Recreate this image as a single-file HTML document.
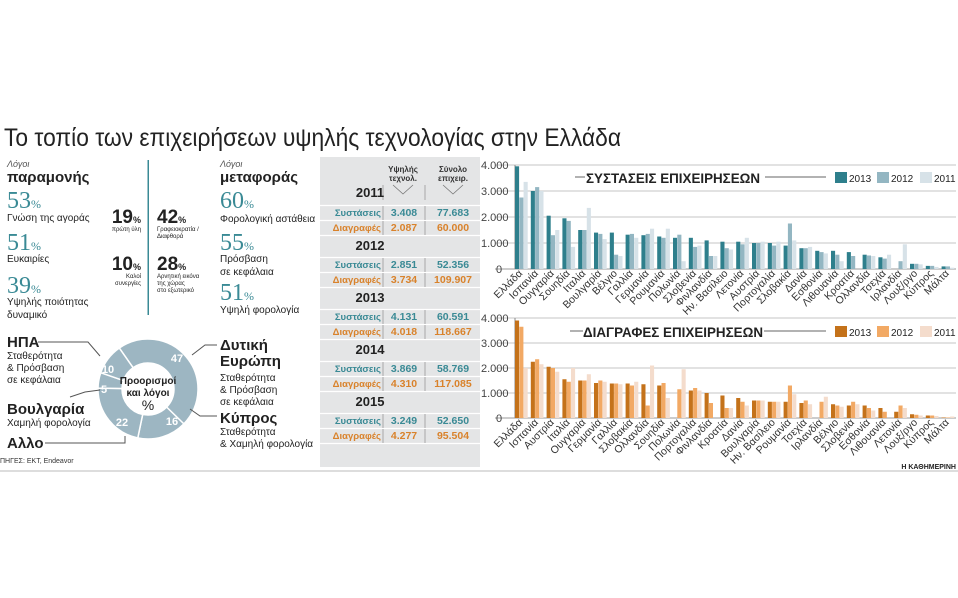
<!DOCTYPE html>
<html><head><meta charset="utf-8"><style>
html,body{margin:0;padding:0;background:#fff;}
svg{display:block;font-family:"Liberation Sans","DejaVu Sans",sans-serif;}
.tl{font-size:10.5px;fill:#333;}
.yt{font-size:11px;fill:#444;}
</style></head><body>
<svg id="s" width="958" height="598" viewBox="0 0 958 598" xmlns="http://www.w3.org/2000/svg">
<rect width="958" height="598" fill="#fff"/>
<text x="4" y="146" font-size="25" fill="#222" textLength="617" lengthAdjust="spacingAndGlyphs">Το τοπίο των επιχειρήσεων υψηλής τεχνολογίας στην Ελλάδα</text>

<g fill="#222">
<text x="7" y="167" font-size="9" font-style="italic" fill="#555">Λόγοι</text>
<text x="7" y="182" font-size="15" font-weight="bold">παραμονής</text>
<text x="7" y="208" font-size="24" fill="#3a8a95" font-family="Liberation Serif,serif">53<tspan font-size="12">%</tspan></text>
<text x="7" y="221" font-size="10">Γνώση της αγοράς</text>
<text x="7" y="250" font-size="24" fill="#3a8a95" font-family="Liberation Serif,serif">51<tspan font-size="12">%</tspan></text>
<text x="7" y="262" font-size="10">Ευκαιρίες</text>
<text x="7" y="293" font-size="24" fill="#3a8a95" font-family="Liberation Serif,serif">39<tspan font-size="12">%</tspan></text>
<text x="7" y="305" font-size="10">Υψηλής ποιότητας</text>
<text x="7" y="318" font-size="10">δυναμικό</text>

<text x="141" y="223" font-size="19" font-weight="bold" text-anchor="end">19<tspan font-size="9">%</tspan></text>
<text x="141" y="231" font-size="6" text-anchor="end">πρώτη ύλη</text>
<text x="141" y="270" font-size="19" font-weight="bold" text-anchor="end">10<tspan font-size="9">%</tspan></text>
<text x="141" y="278" font-size="6" text-anchor="end">Καλοί</text>
<text x="141" y="285" font-size="6" text-anchor="end">συνεργίες</text>
<rect x="147.5" y="160" width="1.5" height="155" fill="#3a8a95"/>
<text x="157" y="223" font-size="19" font-weight="bold">42<tspan font-size="9">%</tspan></text>
<text x="157" y="231" font-size="6">Γραφειοκρατία /</text>
<text x="157" y="238" font-size="6">Διαφθορά</text>
<text x="157" y="270" font-size="19" font-weight="bold">28<tspan font-size="9">%</tspan></text>
<text x="157" y="278" font-size="6">Αρνητική εικόνα</text>
<text x="157" y="285" font-size="6">της χώρας</text>
<text x="157" y="292" font-size="6">στο εξωτερικό</text>

<text x="220" y="167" font-size="9" font-style="italic" fill="#555">Λόγοι</text>
<text x="220" y="182" font-size="15" font-weight="bold">μεταφοράς</text>
<text x="220" y="208" font-size="24" fill="#3a8a95" font-family="Liberation Serif,serif">60<tspan font-size="12">%</tspan></text>
<text x="220" y="222" font-size="10">Φορολογική αστάθεια</text>
<text x="220" y="250" font-size="24" fill="#3a8a95" font-family="Liberation Serif,serif">55<tspan font-size="12">%</tspan></text>
<text x="220" y="262" font-size="10">Πρόσβαση</text>
<text x="220" y="275" font-size="10">σε κεφάλαια</text>
<text x="220" y="300" font-size="24" fill="#3a8a95" font-family="Liberation Serif,serif">51<tspan font-size="12">%</tspan></text>
<text x="220" y="313" font-size="10">Υψηλή φορολογία</text>

<text x="7" y="347" font-size="15" font-weight="bold">ΗΠΑ</text>
<text x="7" y="359" font-size="10">Σταθερότητα</text>
<text x="7" y="371" font-size="10">&amp; Πρόσβαση</text>
<text x="7" y="383" font-size="10">σε κεφάλαια</text>
<text x="7" y="414" font-size="15" font-weight="bold">Βουλγαρία</text>
<text x="7" y="426" font-size="10">Χαμηλή φορολογία</text>
<text x="7" y="448" font-size="15" font-weight="bold">Αλλο</text>
<text x="220" y="350" font-size="15" font-weight="bold">Δυτική</text>
<text x="220" y="366" font-size="15" font-weight="bold">Ευρώπη</text>
<text x="220" y="381" font-size="10">Σταθερότητα</text>
<text x="220" y="393" font-size="10">&amp; Πρόσβαση</text>
<text x="220" y="405" font-size="10">σε κεφάλαια</text>
<text x="220" y="423" font-size="15" font-weight="bold">Κύπρος</text>
<text x="220" y="435" font-size="10">Σταθερότητα</text>
<text x="220" y="447" font-size="10">&amp; Χαμηλή φορολογία</text>
<text x="0" y="463" font-size="7" fill="#333">ΠΗΓΕΣ: ΕΚΤ, Endeavor</text>
</g>
<g id="donut"></g>
<g stroke="#555" fill="none" stroke-width="1">
<polyline points="38,342 88,342 100,356"/>
<polyline points="70,397 85,392 100,390"/>
<polyline points="45,443 125,443 125,436"/>
<polyline points="217,345 205,345 192,355"/>
<polyline points="217,416 200,416 190,409"/>
</g>
<g fill="#fff" font-size="11" font-weight="bold" text-anchor="middle">
<text x="177" y="362">47</text><text x="172" y="425">16</text>
<text x="122" y="426">22</text><text x="104" y="393">5</text><text x="108" y="373">10</text>
</g>
<g fill="#222" text-anchor="middle">
<text x="148" y="384" font-size="10" font-weight="bold">Προορισμοί</text>
<text x="148" y="396" font-size="10" font-weight="bold">και λόγοι</text>
<text x="148" y="410" font-size="14">%</text>
</g>

<rect x="320" y="157" width="160" height="310" fill="#e4e5e6"/>
<g id="tbl" font-size="10.5" font-weight="bold"></g>
<g font-size="8" text-anchor="middle" fill="#333" font-weight="bold">
<text x="403" y="172">Υψηλής</text><text x="403" y="181">τεχνολ.</text>
<text x="453" y="172">Σύνολο</text><text x="453" y="181">επιχειρ.</text>
</g>
<g stroke="#777" fill="none" stroke-width="0.8"><polyline points="393,185 403,194 413,185"/><polyline points="443,185 453,194 463,185"/></g>
<g font-size="13" font-weight="bold" fill="#222" text-anchor="middle">
<text x="370" y="197">2011</text><text x="370" y="250">2012</text><text x="370" y="302">2013</text><text x="370" y="354">2014</text><text x="370" y="406">2015</text>
</g>

<g id="c1"></g><g id="c2"></g>
<g id="l1" class="tl" text-anchor="end">
<text>Ελλάδα</text><text>Ισπανία</text><text>Ουγγαρία</text><text>Σουηδία</text><text>Ιταλία</text><text>Βουλγαρία</text><text>Βέλγιο</text><text>Γαλλία</text><text>Γερμανία</text><text>Ρουμανία</text><text>Πολωνία</text><text>Σλοβενία</text><text>Φινλανδία</text><text>Ην. Βασίλειο</text><text>Λετονία</text><text>Αυστρία</text><text>Πορτογαλία</text><text>Σλοβακία</text><text>Δανία</text><text>Εσθονία</text><text>Λιθουανία</text><text>Κροατία</text><text>Ολλανδία</text><text>Τσεχία</text><text>Ιρλανδία</text><text>Λουξ/ργο</text><text>Κύπρος</text><text>Μάλτα</text>
</g>
<g id="l2" class="tl" text-anchor="end">
<text>Ελλάδα</text><text>Ισπανία</text><text>Αυστρία</text><text>Ιταλία</text><text>Ουγγαρία</text><text>Γερμανία</text><text>Γαλλία</text><text>Σλοβακία</text><text>Ολλανδία</text><text>Σουηδία</text><text>Πολωνία</text><text>Πορτογαλία</text><text>Φινλανδία</text><text>Κροατία</text><text>Δανία</text><text>Βουλγαρία</text><text>Ην. Βασίλειο</text><text>Ρουμανία</text><text>Τσεχία</text><text>Ιρλανδία</text><text>Βέλγιο</text><text>Σλοβενία</text><text>Εσθονία</text><text>Λιθουανία</text><text>Λετονία</text><text>Λουξ/ργο</text><text>Κύπρος</text><text>Μάλτα</text>
</g>
<g class="yt">
<text x="481" y="169">4.000</text><text x="481" y="195">3.000</text><text x="481" y="221">2.000</text><text x="481" y="247">1.000</text><text x="496" y="273">0</text>
<text x="481" y="322">4.000</text><text x="481" y="347">3.000</text><text x="481" y="372">2.000</text><text x="481" y="397">1.000</text><text x="496" y="422">0</text>
</g>
<rect x="583" y="168" width="180" height="18" fill="#fff"/>
<line x1="575" y1="177" x2="585" y2="177" stroke="#666"/><line x1="765" y1="177" x2="826" y2="177" stroke="#666"/>
<text x="586" y="183" font-size="14" font-weight="bold" fill="#222" textLength="174" lengthAdjust="spacingAndGlyphs">ΣΥΣΤΑΣΕΙΣ ΕΠΙΧΕΙΡΗΣΕΩΝ</text>
<rect x="832" y="168" width="124" height="18" fill="#fff"/>
<rect x="835" y="172" width="12" height="11" fill="#2e7f8c"/><text x="849" y="182" font-size="10" fill="#222">2013</text>
<rect x="877" y="172" width="12" height="11" fill="#93b6c2"/><text x="891" y="182" font-size="10" fill="#222">2012</text>
<rect x="920" y="172" width="12" height="11" fill="#d7e2e8"/><text x="934" y="182" font-size="10" fill="#222">2011</text>

<rect x="580" y="322" width="184" height="18" fill="#fff"/>
<line x1="570" y1="331" x2="583" y2="331" stroke="#666"/><line x1="764" y1="331" x2="826" y2="331" stroke="#666"/>
<text x="583" y="337" font-size="14" font-weight="bold" fill="#222" textLength="180" lengthAdjust="spacingAndGlyphs">ΔΙΑΓΡΑΦΕΣ ΕΠΙΧΕΙΡΗΣΕΩΝ</text>
<rect x="832" y="322" width="124" height="18" fill="#fff"/>
<rect x="835" y="326" width="12" height="11" fill="#c4721a"/><text x="849" y="336" font-size="10" fill="#222">2013</text>
<rect x="877" y="326" width="12" height="11" fill="#f2a964"/><text x="891" y="336" font-size="10" fill="#222">2012</text>
<rect x="920" y="326" width="12" height="11" fill="#f4dccc"/><text x="934" y="336" font-size="10" fill="#222">2011</text>

<text x="956" y="469" font-size="7" font-weight="bold" fill="#222" text-anchor="end">Η ΚΑΘΗΜΕΡΙΝΗ</text>
<rect x="0" y="470" width="958" height="2" fill="#ddd"/>
</svg>
<script>
var NS="http://www.w3.org/2000/svg";
function el(p,t,a){var e=document.createElementNS(NS,t);for(var k in a)e.setAttribute(k,a[k]);p.appendChild(e);return e;}
var d=document.getElementById('donut'),cx=148,cy=389,R=50,r=26;
var vals=[47,16,22,5,10],a=-35;
function pt(ang,rad){var t=(ang-90)*Math.PI/180;return [cx+rad*Math.cos(t),cy+rad*Math.sin(t)];}
vals.forEach(function(v){var b=a+v*3.6;var p1=pt(a,R),p2=pt(b,R),p3=pt(b,r),p4=pt(a,r);var lg=(b-a)>180?1:0;
el(d,'path',{d:'M'+p1+' A'+R+','+R+' 0 '+lg+' 1 '+p2+' L'+p3+' A'+r+','+r+' 0 '+lg+' 0 '+p4+'Z',fill:'#9db6c2',stroke:'#fff','stroke-width':1.5});a=b;});
var t=document.getElementById('tbl');
var rows=[[216,'Συστάσεις','3.408','77.683',0],[231,'Διαγραφές','2.087','60.000',1],[268,'Συστάσεις','2.851','52.356',0],[283,'Διαγραφές','3.734','109.907',1],[320,'Συστάσεις','4.131','60.591',0],[335,'Διαγραφές','4.018','118.667',1],[372,'Συστάσεις','3.869','58.769',0],[387,'Διαγραφές','4.310','117.085',1],[424,'Συστάσεις','3.249','52.650',0],[439,'Διαγραφές','4.277','95.504',1]];
rows.forEach(function(rw){var c=rw[4]?'#d9822b':'#3a8a95';
el(t,'line',{x1:320,x2:480,y1:rw[0]+4.5,y2:rw[0]+4.5,stroke:'#fff','stroke-width':1.2});
if(!rw[4])el(t,'line',{x1:320,x2:480,y1:rw[0]-10.5,y2:rw[0]-10.5,stroke:'#fff','stroke-width':1.2});
el(t,'line',{x1:383,x2:383,y1:rw[0]-10,y2:rw[0]+4,stroke:'#999','stroke-width':0.8});
el(t,'line',{x1:425,x2:425,y1:rw[0]-10,y2:rw[0]+4,stroke:'#999','stroke-width':0.8});
var e=el(t,'text',{x:381,y:rw[0],'text-anchor':'end',fill:c,'font-size':9.5});e.textContent=rw[1];
e=el(t,'text',{x:404,y:rw[0],'text-anchor':'middle',fill:c});e.textContent=rw[2];
e=el(t,'text',{x:453,y:rw[0],'text-anchor':'middle',fill:c});e.textContent=rw[3];});
el(t,'line',{x1:383,x2:383,y1:185,y2:200,stroke:'#999','stroke-width':0.8});
el(t,'line',{x1:425,x2:425,y1:185,y2:200,stroke:'#999','stroke-width':0.8});
var D1=[[3950,2750,3350],[3000,3150,3000],[2050,1300,1500],[1950,1850,850],[1500,1500,2350],[1400,1350,1150],[1400,550,500],[1320,1350,1200],[1300,1350,1550],[1250,1200,1550],[1200,1320,300],[1200,850,900],[1100,500,500],[1050,800,750],[1050,950,1200],[1000,1000,1050],[1000,900,1050],[900,1750,1100],[800,800,850],[700,650,600],[700,550,300],[650,500,0],[550,520,500],[450,400,550],[0,300,950],[200,200,180],[120,120,80],[100,100,50]];
var D2=[[3900,3650,2000],[2250,2350,2150],[2050,2000,1850],[1550,1450,2000],[1500,1500,1750],[1400,1500,1450],[1380,1380,1350],[1380,1300,1450],[1350,500,2100],[1300,1400,800],[0,1150,1950],[1100,1200,1100],[1000,600,0],[900,400,400],[800,650,500],[700,700,700],[650,650,650],[650,1300,950],[600,700,550],[0,650,850],[550,500,450],[500,650,550],[500,400,300],[400,250,0],[250,500,400],[150,130,100],[100,100,80],[20,20,60]];
function chart(g,lab,data,y0,h,cols){
 for(var k=0;k<=4;k++){el(g,'line',{x1:495,x2:956,y1:y0-k*h/4,y2:y0-k*h/4,stroke:k?'#c4c4c4':'#999','stroke-width':1});}
 el(g,'line',{x1:515,x2:515,y1:y0-h,y2:y0,stroke:'#888'});
 data.forEach(function(d,i){var x=515+i*15.8;d.forEach(function(v,j){var bh=v/4000*h;el(g,'rect',{x:x+j*4.3,y:y0-bh,width:4.1,height:bh,fill:cols[j]});});});
 var ts=lab.getElementsByTagName('text');for(var i=0;i<ts.length;i++){var ax=515+i*15.8+8,ay=y0+5;ts[i].setAttribute('transform','translate('+ax+','+ay+') rotate(-45)');}
}
chart(document.getElementById('c1'),document.getElementById('l1'),D1,269,104,['#2e7f8c','#93b6c2','#d7e2e8']);
chart(document.getElementById('c2'),document.getElementById('l2'),D2,418,100,['#c4721a','#f2a964','#f4dccc']);
</script>
</body></html>
